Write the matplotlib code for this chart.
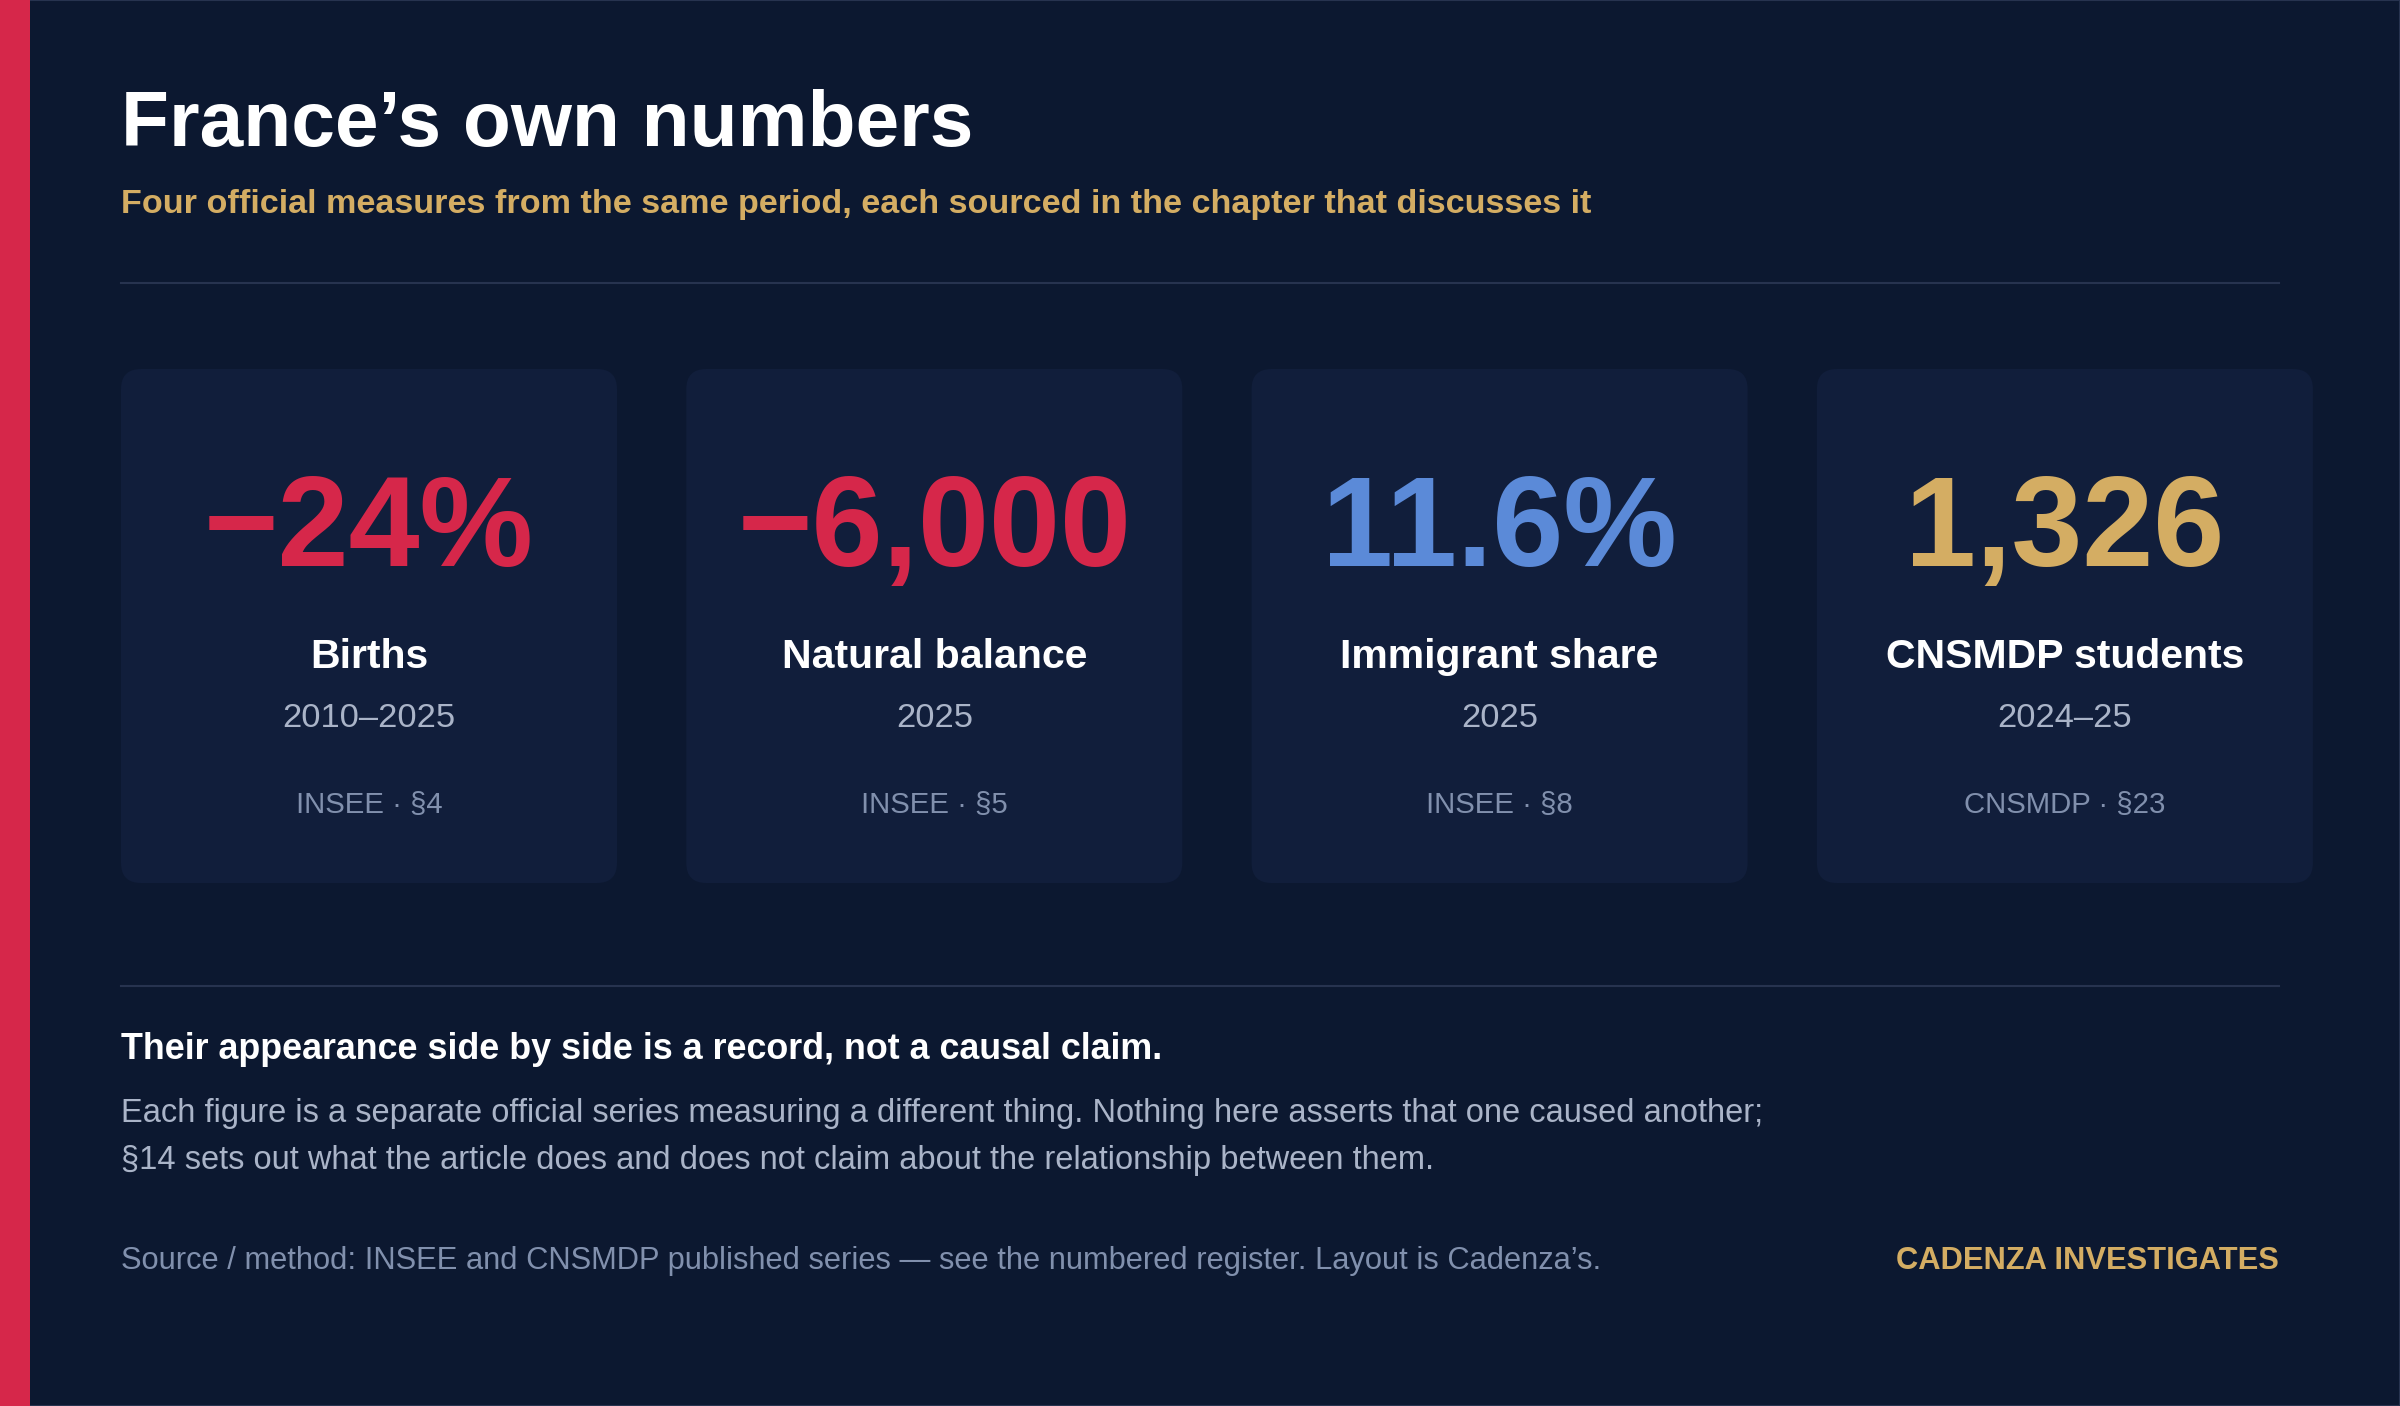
import matplotlib
matplotlib.use('Agg')
import matplotlib.pyplot as plt
from matplotlib.patches import FancyBboxPatch, Rectangle

plt.rcParams['font.family'] = ['Liberation Sans', 'DejaVu Sans']

# card data
values  = ['\u221224%', '\u22126,000', '11.6%', '1,326']
labels  = ['Births', 'Natural balance', 'Immigrant share', 'CNSMDP students']
periods = ['2010\u20132025', '2025', '2025', '2024\u201325']
sources = ['INSEE \u00b7 \u00a74', 'INSEE \u00b7 \u00a75', 'INSEE \u00b7 \u00a78', 'CNSMDP \u00b7 \u00a723']
val_colors = ['#d6274a', '#d6274a', '#5b8ad8', '#d4ad63']

title = 'France\u2019s own numbers'
subtitle = 'Four official measures from the same period, each sourced in the chapter that discusses it'
note_head = 'Their appearance side by side is a record, not a causal claim.'
note_body = ['Each figure is a separate official series measuring a different thing. Nothing here asserts that one caused another;',
             '\u00a714 sets out what the article does and does not claim about the relationship between them.']
footer = 'Source / method: INSEE and CNSMDP published series \u2014 see the numbered register. Layout is Cadenza\u2019s.'
brand = 'CADENZA INVESTIGATES'

BG = '#0c1830'
CARD = '#111e3b'
RULE = '#27334f'
W, H = 2400, 1406

fig = plt.figure(figsize=(W/100, H/100), dpi=100, facecolor=BG)
ax = fig.add_axes([0, 0, 1, 1])
ax.set_xlim(0, W)
ax.set_ylim(H, 0)
ax.axis('off')
ax.set_facecolor(BG)

# frame + accent bar
ax.add_patch(Rectangle((0, 0), W, H, facecolor=BG, edgecolor=RULE, lw=1.5))
ax.add_patch(Rectangle((0, 0), 30, H, facecolor='#d6274a', edgecolor='none'))

left, right = 121, 2279
ax.text(left, 146, title, fontsize=56.5, fontweight='bold', color='white', va='baseline')
ax.text(left, 213, subtitle, fontsize=24.6, fontweight='bold', color='#d4ad63', va='baseline')
ax.plot([left, right], [283, 283], color=RULE, lw=1.5)

card_w, step = 496, 565.3
top, bot = 369, 883
for i in range(len(values)):
    x0 = left + i*step
    ax.add_patch(FancyBboxPatch((x0, top), card_w, bot - top,
                                boxstyle='round,pad=0,rounding_size=20',
                                facecolor=CARD, edgecolor='none'))
    cx = x0 + card_w/2
    ax.text(cx, 566, values[i], fontsize=92, fontweight='bold', color=val_colors[i],
            ha='center', va='baseline')
    ax.text(cx, 668, labels[i], fontsize=29.5, fontweight='bold', color='white',
            ha='center', va='baseline')
    ax.text(cx, 727, periods[i], fontsize=24.8, color='#aab4c8', ha='center', va='baseline')
    ax.text(cx, 813, sources[i], fontsize=21.2, color='#8190ad', ha='center', va='baseline')

ax.plot([left, right], [986, 986], color=RULE, lw=1.5)
ax.text(left, 1059, note_head, fontsize=25.8, fontweight='bold', color='white', va='baseline')
ax.text(left, 1122, note_body[0], fontsize=23.5, color='#aab4c8', va='baseline')
ax.text(left, 1169, note_body[1], fontsize=23.5, color='#aab4c8', va='baseline')
ax.text(left, 1269, footer, fontsize=22.2, color='#8190ad', va='baseline')
ax.text(right, 1269, brand, fontsize=22.2, fontweight='bold', color='#d4ad63',
        ha='right', va='baseline')

fig.savefig('out.png', dpi=100, facecolor=BG)
